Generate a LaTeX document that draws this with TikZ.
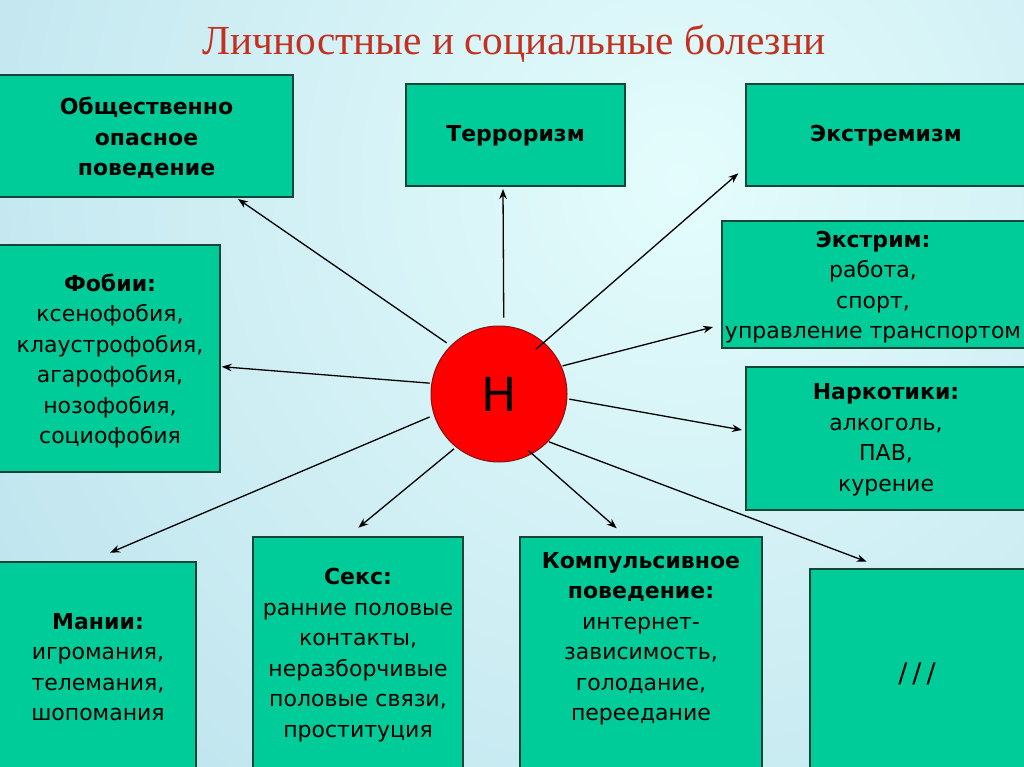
\documentclass[tikz,border=0pt]{standalone}
\usepackage{fontspec}
\setmainfont{DejaVu Sans}
\newfontfamily\titlefont{Liberation Serif}
\usetikzlibrary{arrows.meta,calc}
\definecolor{boxfill}{RGB}{0,204,153}
\definecolor{boxline}{RGB}{20,70,55}
\definecolor{titlered}{RGB}{195,48,32}
\definecolor{bgin}{RGB}{228,252,252}
\definecolor{bgout}{RGB}{160,208,226}
\definecolor{ballred}{RGB}{255,0,0}
\definecolor{ballline}{RGB}{130,20,20}
\tikzset{
  box/.style={draw=boxline, line width=1.3pt, fill=boxfill, anchor=north west, inner sep=0pt, outer sep=0pt},
  boxtext/.style={align=center, font=\fontsize{22}{30.5}\selectfont, text=black, inner sep=0pt},
  arr/.style={line width=1.3pt, -{Stealth[length=10pt,width=7.5pt]}},
}
\begin{document}
\begin{tikzpicture}[x=1pt,y=-1pt]
\useasboundingbox (0,0) rectangle (1024,767);
\clip (0,0) rectangle (1024,767);
\shade[inner color=bgin, outer color=bgout] (680,180) circle (1500pt);

\node[font=\titlefont\fontsize{41.3}{41.3}\selectfont, text=titlered, anchor=base] (title) at (514,55) {Личностные и социальные болезни};

% boxes
\node[box, minimum width=294pt, minimum height=122pt] (opasn) at (-1,75) {};
\node[box, minimum width=219pt, minimum height=102pt] (terror) at (406,84) {};
\node[box, minimum width=290pt, minimum height=102pt] (extremism) at (746,84) {};
\node[box, minimum width=221pt, minimum height=227pt] (fobii) at (-1,245) {};
\node[box, minimum width=310pt, minimum height=127pt] (extrim) at (722,221) {};
\node[box, minimum width=290pt, minimum height=143pt] (narko) at (746,367) {};
\node[box, minimum width=197pt, minimum height=220pt] (manii) at (-1,562) {};
\node[box, minimum width=210pt, minimum height=245pt] (sex) at (253,537) {};
\node[box, minimum width=242pt, minimum height=245pt] (komp) at (520,537) {};
\node[box, minimum width=230pt, minimum height=215pt] (slash) at (810,569) {};

% texts
\node[boxtext] (opasn-t) at (146.5,138) {\bfseries Общественно\\\bfseries опасное\\\bfseries поведение};
\node[boxtext] (terror-t) at (515.5,136) {\bfseries Терроризм};
\node[boxtext] (extremism-t) at (886,136) {\bfseries Экстремизм};
\node[boxtext] (fobii-t) at (110,361) {\bfseries Фобии:\\ксенофобия,\\клаустрофобия,\\агарофобия,\\нозофобия,\\социофобия};
\node[boxtext] (extrim-t) at (873,287) {\bfseries Экстрим:\\работа,\\спорт,\\управление транспортом};
\node[boxtext] (narko-t) at (886,440) {\bfseries Наркотики:\\алкоголь,\\ПАВ,\\курение};
\node[boxtext] (manii-t) at (98,667) {\bfseries Мании:\\игромания,\\телемания,\\шопомания};
\node[boxtext] (sex-t) at (358,655) {\bfseries Секс:\\ранние половые\\контакты,\\неразборчивые\\половые связи,\\проституция};
\node[boxtext] (komp-t) at (641,639) {\bfseries Компульсивное\\\bfseries поведение:\\интернет-\\зависимость,\\голодание,\\переедание};
\node[boxtext, font=\fontsize{27}{30}\selectfont] (slash-t) at (917,674) {/\kern5pt/\kern5pt/};

% centre
\node[circle, fill=ballred, draw=ballline, line width=1pt, minimum size=136pt, inner sep=0pt, font=\fontsize{47}{47}\selectfont] (H) at (499,394) {Н};

% arrows
\draw[arr, shorten <=4.8pt] (H.135) -- ($(opasn.south)+(92,2)$);
\draw[arr, shorten <=8pt] (H.86) -- ($(terror.south)+(-12.5,3)$);
\draw[arr, shorten <=-10.6pt] (H.49) -- ($(extremism.south west)+(-7.7,-12.7)$);
\draw[arr, shorten <=1pt] (H.24) -- ($(extrim.south west)+(-9,-21)$);
\draw[arr, shorten <=2pt] (H.-4) -- ($(narko.west)+(-4,-8.5)$);
\draw[arr, shorten <=0.6pt] (H.-44) -- ($(slash.north west)+(56.7,-7.3)$);
\draw[arr, shorten <=-5pt] (H.-61) -- ($(komp.north west)+(96.7,-8.7)$);
\draw[arr, shorten <=2.4pt] (H.-129) -- ($(sex.north west)+(105.3,-9.3)$);
\draw[arr, shorten <=4.6pt] (H.-162) -- ($(manii.north west)+(111,-9.3)$);
\draw[arr, shorten <=1.8pt] (H.171) -- ($(fobii.north east)+(1.7,121.7)$);
\end{tikzpicture}
\end{document}
